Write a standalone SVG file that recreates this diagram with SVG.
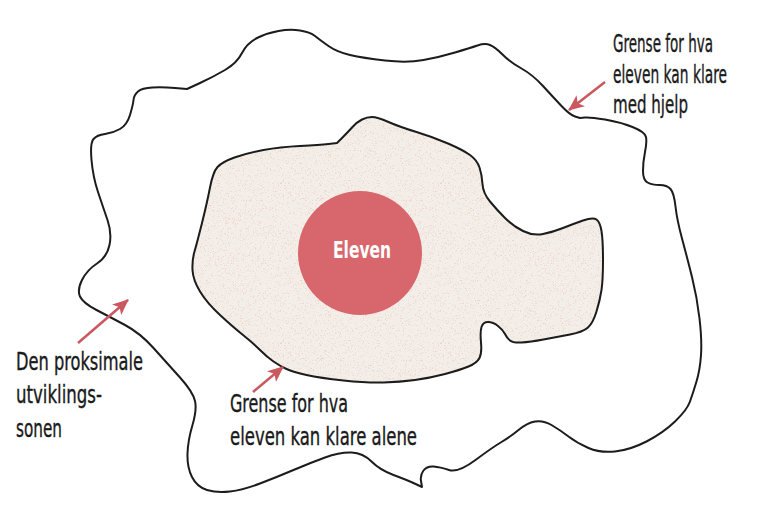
<svg xmlns="http://www.w3.org/2000/svg" width="766" height="525" viewBox="0 0 766 525">
  <style>
    .outline { fill: none; stroke: #1c1c1c; stroke-width: 2; stroke-linejoin: round; }
    .zonefill { fill: #f4eee8; stroke: none; }
    .lbl { font-family: "DejaVu Sans Condensed", "DejaVu Sans", "Liberation Sans", sans-serif; font-stretch: condensed; font-size: 24px; fill: #1a1a1a; stroke: #1a1a1a; stroke-width: 0.35; }
    .me { font-family: "DejaVu Sans Condensed", "DejaVu Sans", "Liberation Sans", sans-serif; font-stretch: condensed; font-size: 23px; font-weight: bold; fill: #ffffff; }
    .arrow { stroke: #c9585f; stroke-width: 2.5; fill: none; marker-end: url(#ah); }
  </style>
  <defs>
    <marker id="ah" viewBox="0 0 16 14" refX="15" refY="7" markerWidth="16" markerHeight="14" markerUnits="userSpaceOnUse" orient="auto">
      <path d="M0,0 L16,7 L0,14 L4,7 Z" fill="#c9585f"/>
    </marker>
    <filter id="speckle" x="0" y="0" width="100%" height="100%">
      <feTurbulence type="fractalNoise" baseFrequency="1.6" numOctaves="1" seed="3" result="noise"/>
      <feColorMatrix in="noise" type="matrix" values="0 0 0 0 0.84  0 0 0 0 0.66  0 0 0 0 0.6  0 0 0 6 -3.4" result="dots"/>
      <feComposite in="dots" in2="SourceGraphic" operator="in" result="dotsIn"/>
      <feMerge><feMergeNode in="SourceGraphic"/><feMergeNode in="dotsIn"/></feMerge>
    </filter>
    <path id="innerShape" d="M362,119.5 Q367,117 372,117 Q377,117 388.5,122 Q400,127 416.5,132 Q433,137 448,143.5 Q463,150 470,155 Q477,160 479.5,167.5 Q482,175 482.5,184 Q483,193 490,201.5 Q497,210 505,218 Q513,226 523,231 Q533,236 543,234 Q553,232 563,228 Q573,224 583,220.5 Q593,217 596.5,219.5 Q600,222 601.5,231 Q603,240 603,260 Q603,280 601.5,290 Q600,300 596.5,311.5 Q593,323 588,327.5 Q583,332 570,334.5 Q557,337 543.5,339.5 Q530,342 521.5,342.5 Q513,343 510,340.5 Q507,338 505,334 Q503,330 498,326 Q493,322 488,322 Q483,322 481.5,327 Q480,332 481,342.5 Q482,353 479.5,358 Q477,363 468.5,366.5 Q460,370 445,374 Q430,378 415,380 Q400,382 383.5,382.5 Q367,383 343.5,380.5 Q320,378 306.5,375 Q293,372 286.5,369 Q280,366 273.5,361.5 Q267,357 260,350 Q253,343 243,335 Q233,327 220,315 Q207,303 200,291.5 Q193,280 192.5,270 Q192,260 194.5,251.5 Q197,243 202,223 Q207,203 210,187.5 Q213,172 217.5,167 Q222,162 234.5,157.5 Q247,153 263.5,150 Q280,147 300,146 Q320,145 328.5,144 L337,143 L342.5,137.5 Q348,132 352.5,127 Q357,122 362,119.5 Z"/>
  </defs>
  <rect width="766" height="525" fill="#ffffff"/>

  <g id="outer-zone">
    <path class="outline" d="M91.5,160 Q90,143 93.5,139 Q97,135 105,134 Q113,133 120,129 Q127,125 130,115 Q133,105 133.5,100 Q134,95 138,91.5 Q142,88 152.5,87.5 Q163,87 175,88 L187,89 L200,83 Q213,77 225,70 Q237,63 242,53 Q247,43 257,38 Q267,33 278.5,31 Q290,29 300,30.5 Q310,32 315,36 Q320,40 328.5,46 Q337,52 350,55 Q363,58 385,60.5 Q407,63 423.5,60 Q440,57 455,52.5 Q470,48 477.5,45.5 Q485,43 490,45 Q495,47 502.5,54.5 Q510,62 521.5,68.5 Q533,75 543,86 Q553,97 561.5,106 Q570,115 575,116.5 L580,118 L585,117.5 Q590,117 605,119.5 Q620,122 632.5,127 Q645,132 646,137 Q647,142 645,152 Q643,162 643,171 Q643,180 647.5,182.5 Q652,185 659.5,185 Q667,185 670.5,189 Q674,193 675.5,206.5 Q677,220 682,238.5 Q687,257 692,277 Q697,297 699.5,318.5 Q702,340 701,355 Q700,370 696.5,381.5 Q693,393 690,401.5 Q687,410 675,421.5 Q663,433 646.5,441.5 Q630,450 615,451.5 Q600,453 588.5,448 Q577,443 568.5,436.5 Q560,430 551.5,425 Q543,420 535,421.5 Q527,423 518.5,430 Q510,437 501.5,442 Q493,447 475.5,460 Q458,473 449,470 Q440,467 433.5,466.5 Q427,466 423.5,470.5 Q420,475 421,481 L422,487 L414.5,483.5 Q407,480 393.5,475 Q380,470 371.5,461.5 Q363,453 351.5,452.5 Q340,452 325,457.5 Q310,463 293.5,470 Q277,477 260,483.5 Q243,490 230,491.5 Q217,493 207,490 Q197,487 192,477 Q187,467 187.5,453.5 Q188,440 192.5,425 Q197,410 195,401 Q193,392 180,377.5 Q167,363 153.5,348 Q140,333 125,325 Q110,317 96.5,310 Q83,303 80,296.5 Q77,290 82,280 Q87,270 97,263.5 Q107,257 109.5,245 Q112,233 107.5,220 Q103,207 98,192 Q93,177 91.5,160 Z"/>
  </g>

  <g id="inner-zone">
    <use href="#innerShape" class="zonefill" filter="url(#speckle)"/>
    <use href="#innerShape" class="outline"/>
  </g>

  <g id="eleven">
    <circle cx="360" cy="253" r="62" fill="#d8676d"/>
    <text class="me" x="333" y="258" textLength="58" lengthAdjust="spacingAndGlyphs">Eleven</text>
  </g>

  <g id="connectors">
    <path class="arrow" d="M605,82 L569,110"/>
    <path class="arrow" d="M78,343 L128,300"/>
    <path class="arrow" d="M253,392 L283,367"/>
  </g>

  <g id="label-with-help">
    <text class="lbl" x="713" y="52" text-anchor="end" textLength="100" lengthAdjust="spacingAndGlyphs">Grense for hva</text>
    <text class="lbl" x="727" y="83" text-anchor="end" textLength="114" lengthAdjust="spacingAndGlyphs">eleven kan klare</text>
    <text class="lbl" x="688" y="113" text-anchor="end" textLength="75" lengthAdjust="spacingAndGlyphs">med hjelp</text>
  </g>

  <g id="label-zpd">
    <text class="lbl" x="16" y="370" textLength="127" lengthAdjust="spacingAndGlyphs">Den proksimale</text>
    <text class="lbl" x="16" y="403" textLength="86" lengthAdjust="spacingAndGlyphs">utviklings-</text>
    <text class="lbl" x="16" y="437" textLength="46" lengthAdjust="spacingAndGlyphs">sonen</text>
  </g>

  <g id="label-alone">
    <text class="lbl" x="230" y="412" textLength="118" lengthAdjust="spacingAndGlyphs">Grense for hva</text>
    <text class="lbl" x="230" y="445" textLength="187" lengthAdjust="spacingAndGlyphs">eleven kan klare alene</text>
  </g>
</svg>
